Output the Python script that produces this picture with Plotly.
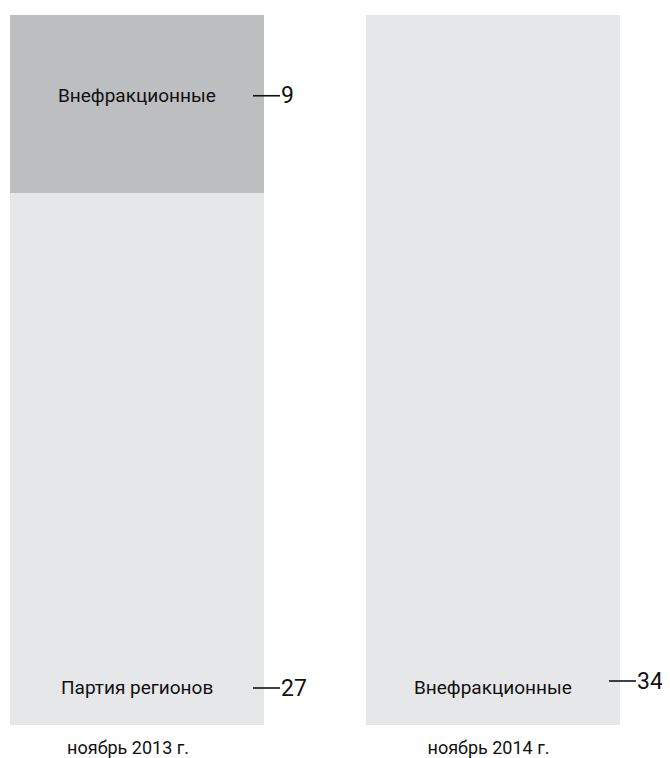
import plotly.graph_objects as go

periods = ["ноябрь 2013 г.", "ноябрь 2014 г."]
party_regions = [27, None]
independents = [9, 34]

light = "#e6e7e8"
dark = "#bcbec0"
FONT = "Roboto, Liberation Sans Narrow, sans-serif"

W, H = 670, 758
xpos = [0, 1]
px_per_unit = 356.0
bar_w = 254 / px_per_unit
x_left = -129 / px_per_unit
x_right = (W - 129) / px_per_unit
px = 1 / px_per_unit

fig = go.Figure()
fig.add_trace(go.Bar(
    x=xpos, y=party_regions, width=bar_w, name="Партия регионов",
    marker=dict(color=light, line=dict(width=0)), hoverinfo="skip",
))
fig.add_trace(go.Bar(
    x=xpos, y=independents, width=bar_w, name="Внефракционные",
    marker=dict(color=[dark, light], line=dict(width=0)), hoverinfo="skip",
))

totals = [sum(v for v in (a, b) if v) for a, b in zip(party_regions, independents)]
segs = []
for i in range(2):
    base = 0.0
    for name, vals in (("Партия регионов", party_regions), ("Внефракционные", independents)):
        v = vals[i]
        if not v:
            continue
        pct = v / totals[i] * 100
        segs.append((i, name, v, base, base + pct))
        base += pct

annotations = []
shapes = []
for i, name, v, b, t in segs:
    if b > 0:  # upper segment: label near its middle
        y, ys, ys_num = (b + t) / 2, 8, 8
    else:      # bottom segment: label near its base
        y, ys, ys_num = 0, 38, 37 if i == 0 else 44
    right = xpos[i] + bar_w / 2
    annotations.append(dict(x=xpos[i], y=y, yshift=ys, text=name, showarrow=False,
                            xanchor="center", yanchor="middle",
                            font=dict(family=FONT, size=19, color="#111")))
    annotations.append(dict(x=right + 15 * px, y=y, yshift=ys_num,
                            text=str(v), showarrow=False,
                            xanchor="left", yanchor="middle",
                            font=dict(family=FONT, size=23, color="#111")))
    shapes.append(dict(type="line", xref="x", yref="y", ysizemode="pixel",
                       yanchor=y, x0=right - 11 * px, x1=right + 16 * px,
                       y0=ys_num, y1=ys_num,
                       line=dict(color="#111", width=1.6)))

fig.update_layout(
    width=W, height=H,
    barmode="stack", barnorm="percent",
    paper_bgcolor="white", plot_bgcolor="white",
    margin=dict(l=0, r=0, t=7, b=41),
    showlegend=False,
    annotations=annotations,
    shapes=shapes,
    xaxis=dict(range=[x_left, x_right], tickvals=xpos,
               ticktext=[periods[0] + "\u00a0\u00a0\u00a0\u00a0", periods[1] + "\u00a0\u00a0"],
               showgrid=False, zeroline=False, showline=False, ticks="",
               ticklabelstandoff=10,
               tickfont=dict(family=FONT, size=18, color="#111"),
               fixedrange=True),
    yaxis=dict(range=[0, 100], visible=False, fixedrange=True),
)

fig.write_html("out.html")
